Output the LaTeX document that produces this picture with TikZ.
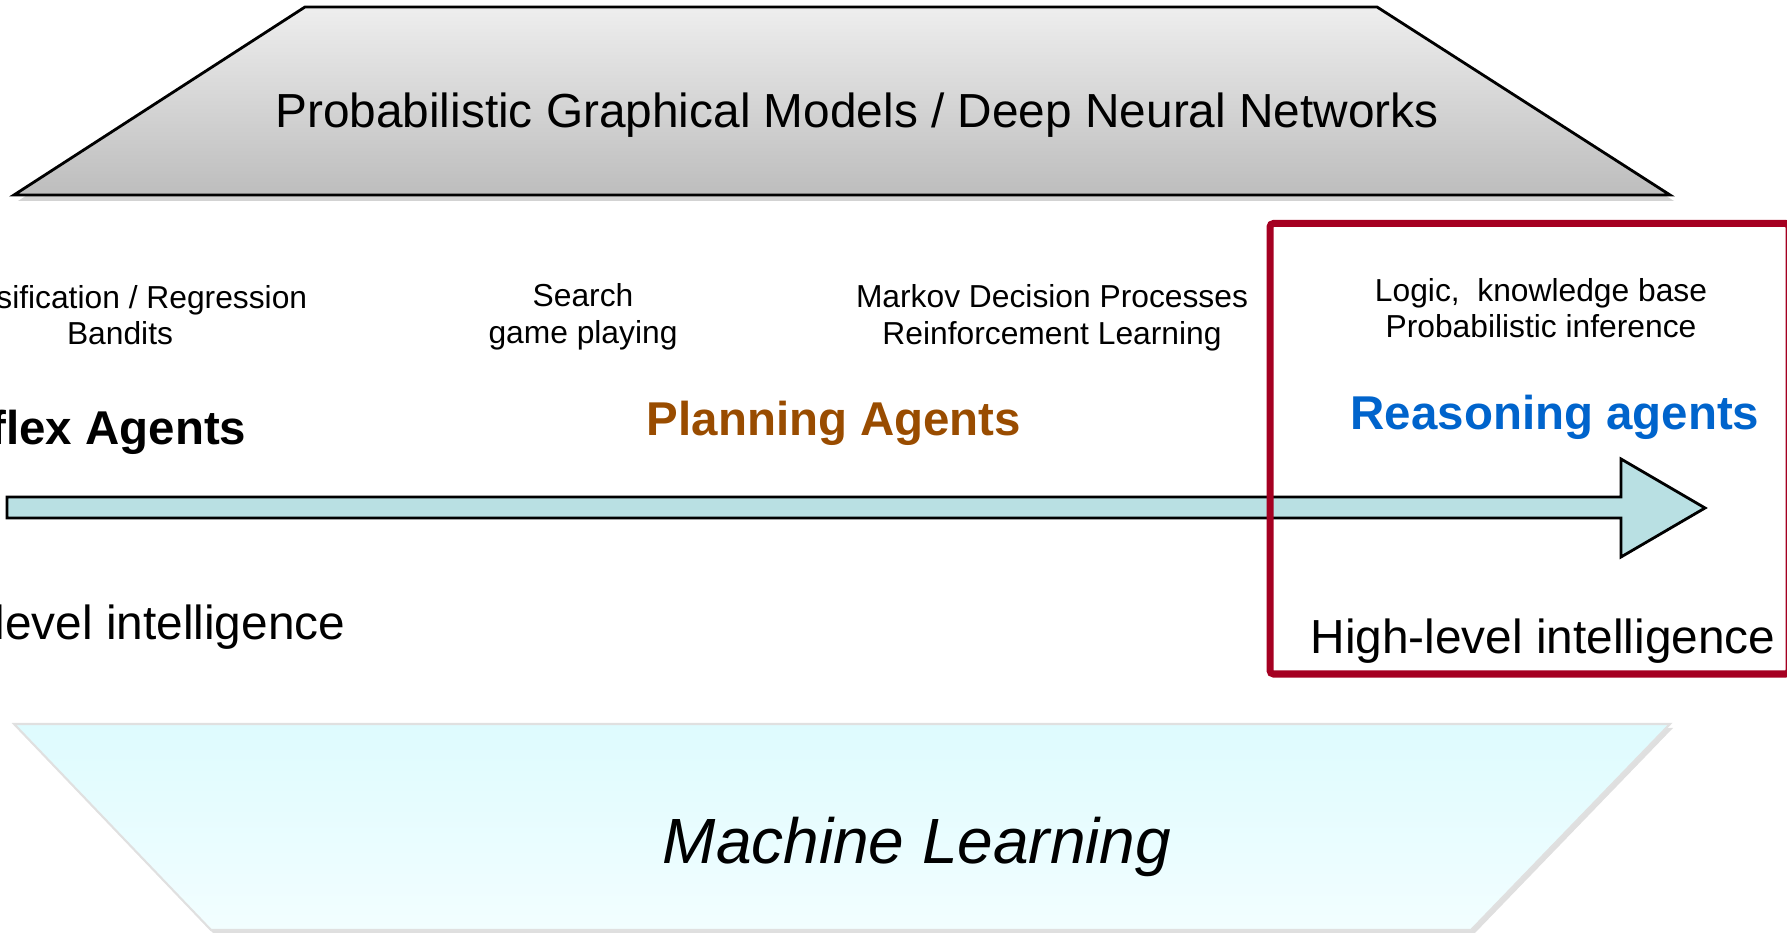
\documentclass[tikz,border=0pt]{standalone}
\usepackage{fontspec}
\setmainfont{Liberation Sans}
\usetikzlibrary{shadows}
\definecolor{plangold}{HTML}{994C00}
\definecolor{reasonblue}{HTML}{0064CC}
\definecolor{boxred}{HTML}{A50021}
\definecolor{arrowfill}{HTML}{B9E0E3}
\definecolor{pgmtop}{HTML}{EEEEEE}
\definecolor{pgmbottom}{HTML}{BDBDBD}
\definecolor{mltop}{HTML}{DEFBFE}
\definecolor{mlbottom}{HTML}{F2FEFF}
\begin{document}
\begin{tikzpicture}[
    topic/.style={align=center,inner sep=0pt,font=\fontsize{9.04}{10.4}\selectfont},
    agents/.style={inner sep=0pt,font=\fontsize{13.5}{16}\selectfont\bfseries},
    level/.style={inner sep=0pt,font=\fontsize{13.6}{16}\selectfont}]
    \useasboundingbox (0,0) rectangle (17.87,9.33);
    \clip (0,0) rectangle (17.87,9.33);
    %% Models on top
    \draw[line width=0.8pt,top color=pgmtop,bottom color=pgmbottom,
        drop shadow={shadow xshift=0.4mm,shadow yshift=-0.6mm,opacity=0.35}]
        (0.14,7.38) -- (3.05,9.26) -- (13.77,9.26) -- (16.70,7.38) -- cycle;
    \node[level] (pgm) at (8.57,8.18) {Probabilistic Graphical Models / Deep Neural Networks};
    %% Learning at the bottom
    \draw[line width=0.6pt,draw=black!12,top color=mltop,bottom color=mlbottom,
        drop shadow={shadow xshift=0.3mm,shadow yshift=-0.4mm,opacity=0.25}]
        (0.14,2.09) -- (16.70,2.09) -- (14.71,0.03) -- (2.11,0.03) -- cycle;
    \node[inner sep=0pt,font=\fontsize{18.2}{22}\selectfont\itshape] (ml) at (9.17,0.86) {Machine Learning};
    %% Topics
    \node[topic] (classif) at (1.20,6.18) {Classification / Regression\\Bandits};
    \node[topic] (search) at (5.83,6.16) {Search\\game playing};
    \node[topic] (mdp) at (10.52,6.15) {Markov Decision Processes\\Reinforcement Learning};
    \node[topic] (logic) at (15.41,6.25) {Logic,\ \ knowledge base\\Probabilistic inference};
    %% Agents
    \node[agents,anchor=east] (reflex) at (2.47,5.01) {Reflex Agents};
    \node[agents,text=plangold] (planning) at (8.34,5.10) {Planning Agents};
    \node[agents,text=reasonblue] (reasoning) at (15.55,5.16) {Reasoning agents};
    %% Arrow
    \draw[line width=0.8pt,fill=arrowfill] (0.07,4.36) -- (16.21,4.36) -- (16.21,4.74)
        -- (17.05,4.25) -- (16.21,3.76) -- (16.21,4.15) -- (0.07,4.15) -- cycle;
    %% Levels
    \node[level,anchor=east] (lowlevel) at (3.46,3.06) {Low-level intelligence};
    \node[level] (highlevel) at (15.43,2.92) {High-level intelligence};
    %% Box
    \draw[boxred,line width=2pt,rounded corners=1pt] (12.70,2.59) rectangle (17.89,7.095);
\end{tikzpicture}
\end{document}
